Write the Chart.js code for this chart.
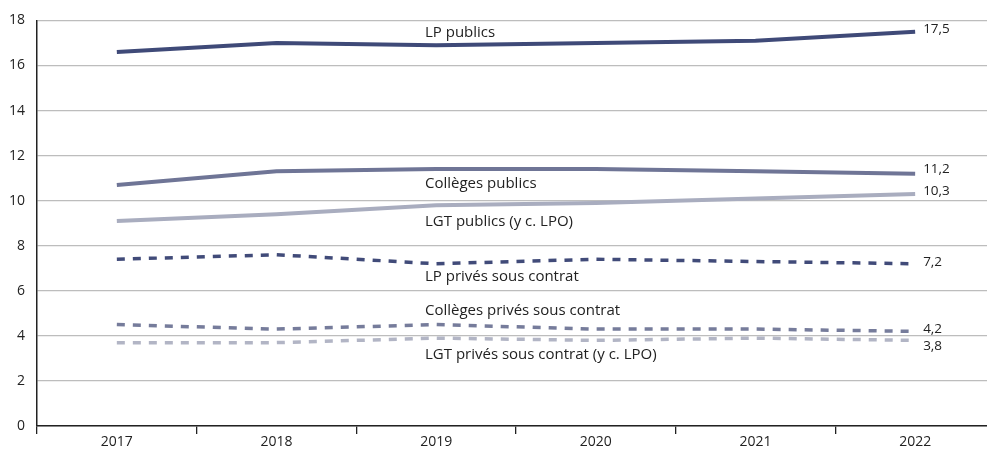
<!DOCTYPE html>
<html><head><meta charset="utf-8">
<script src="https://cdn.jsdelivr.net/npm/chart.js@4.4.0/dist/chart.umd.min.js"></script>
<style>html,body{margin:0;padding:0;background:#fff}#wrap{width:987px;height:450px}</style>
</head><body><div id="wrap"><canvas id="c"></canvas></div>
<script>
const years = [2017, 2018, 2019, 2020, 2021, 2022];
const yTicks = [0, 2, 4, 6, 8, 10, 12, 14, 16, 18];
const seriesNames = ["LP publics", "Collèges publics", "LGT publics (y c. LPO)", "LP privés sous contrat", "Collèges privés sous contrat", "LGT privés sous contrat (y c. LPO)"];
const lpPublics = [16.6, 17.0, 16.9, 17.0, 17.1, 17.5];
const collegesPublics = [10.7, 11.3, 11.4, 11.4, 11.3, 11.2];
const lgtPublics = [9.1, 9.4, 9.8, 9.9, 10.1, 10.3];
const lpPrives = [7.4, 7.6, 7.2, 7.4, 7.3, 7.2];
const collegesPrives = [4.5, 4.3, 4.5, 4.3, 4.3, 4.2];
const lgtPrives = [3.7, 3.7, 3.9, 3.8, 3.9, 3.8];
const endLabels = ["17,5", "11,2", "10,3", "7,2", "4,2", "3,8"];

const allValues = [lpPublics, collegesPublics, lgtPublics, lpPrives, collegesPrives, lgtPrives];
const colors = ['#3f4a78', '#6f7596', '#a9adbf', '#414b79', '#767c9b', '#b2b5c5'];
const dashed = [false, false, false, true, true, true];
// name label positions (in data coordinates) and end-label pixel nudges
const namePos = [[2018.93, 17.45], [2018.93, 10.75], [2018.93, 9.07], [2018.93, 6.63], [2018.93, 5.1], [2018.93, 3.17]];
const endDy = [-3, -4, -3, -2, -2, 6];

const datasets = allValues.map((vals, i) => ({
  label: seriesNames[i],
  data: vals.map((v, j) => ({x: years[j], y: v})),
  borderColor: colors[i],
  borderWidth: dashed[i] ? 3.5 : 4,
  borderDash: dashed[i] ? [8, 8] : [],
  pointRadius: 0,
  fill: false,
  tension: 0
}));

const FONT = '"Open Sans", sans-serif';

const labelPlugin = {
  id: 'labels',
  afterDatasetsDraw(chart) {
    const ctx = chart.ctx, xs = chart.scales.x, ys = chart.scales.y;
    ctx.save();
    ctx.fillStyle = '#222222';
    ctx.textBaseline = 'middle';
    ctx.textAlign = 'left';
    seriesNames.forEach((n, i) => {
      ctx.font = '15px ' + FONT;
      ctx.fillText(n, xs.getPixelForValue(namePos[i][0]), ys.getPixelForValue(namePos[i][1]));
      const vals = allValues[i];
      ctx.font = '13.5px ' + FONT;
      ctx.fillText(endLabels[i], xs.getPixelForValue(years[years.length - 1]) + 8, ys.getPixelForValue(vals[vals.length - 1]) + endDy[i]);
    });
    ctx.restore();
  }
};

new Chart(document.getElementById('c'), {
  type: 'line',
  data: {datasets},
  plugins: [labelPlugin],
  options: {
    responsive: true,
    maintainAspectRatio: false,
    animation: false,
    layout: {padding: {top: 20, left: 0, right: 0, bottom: 0}},
    plugins: {legend: {display: false}, tooltip: {enabled: false}},
    scales: {
      x: {
        type: 'linear',
        min: 2016.5,
        max: 2022.45,
        afterBuildTicks(scale) {
          const t = [];
          years.forEach(y => { t.push({value: y - 0.5}); t.push({value: y}); });
          scale.ticks = t;
        },
        afterFit(scale) { scale.height = 24; },
        border: {display: true, color: '#222', width: 1.5},
        grid: {
          drawOnChartArea: false,
          drawTicks: true,
          tickLength: 8,
          color: ctx => (ctx.tick && Number.isInteger(ctx.tick.value)) ? 'rgba(0,0,0,0)' : '#222',
          lineWidth: 1.3
        },
        ticks: {
          autoSkip: false,
          maxRotation: 0,
          padding: 0,
          color: '#222222',
          font: {family: FONT, size: 14},
          callback: v => Number.isInteger(v) ? String(v) : ''
        }
      },
      y: {
        min: 0,
        max: 18,
        afterBuildTicks(scale) { scale.ticks = yTicks.map(v => ({value: v})); },
        afterFit(scale) { scale.width = 37; },
        border: {display: true, color: '#222', width: 1.5},
        grid: {drawTicks: false, color: '#bdbdbd', lineWidth: 1.2},
        ticks: {
          padding: 12,
          color: '#222222',
          font: {family: FONT, size: 14},
          callback: v => String(v)
        }
      }
    }
  }
});
</script></body></html>
